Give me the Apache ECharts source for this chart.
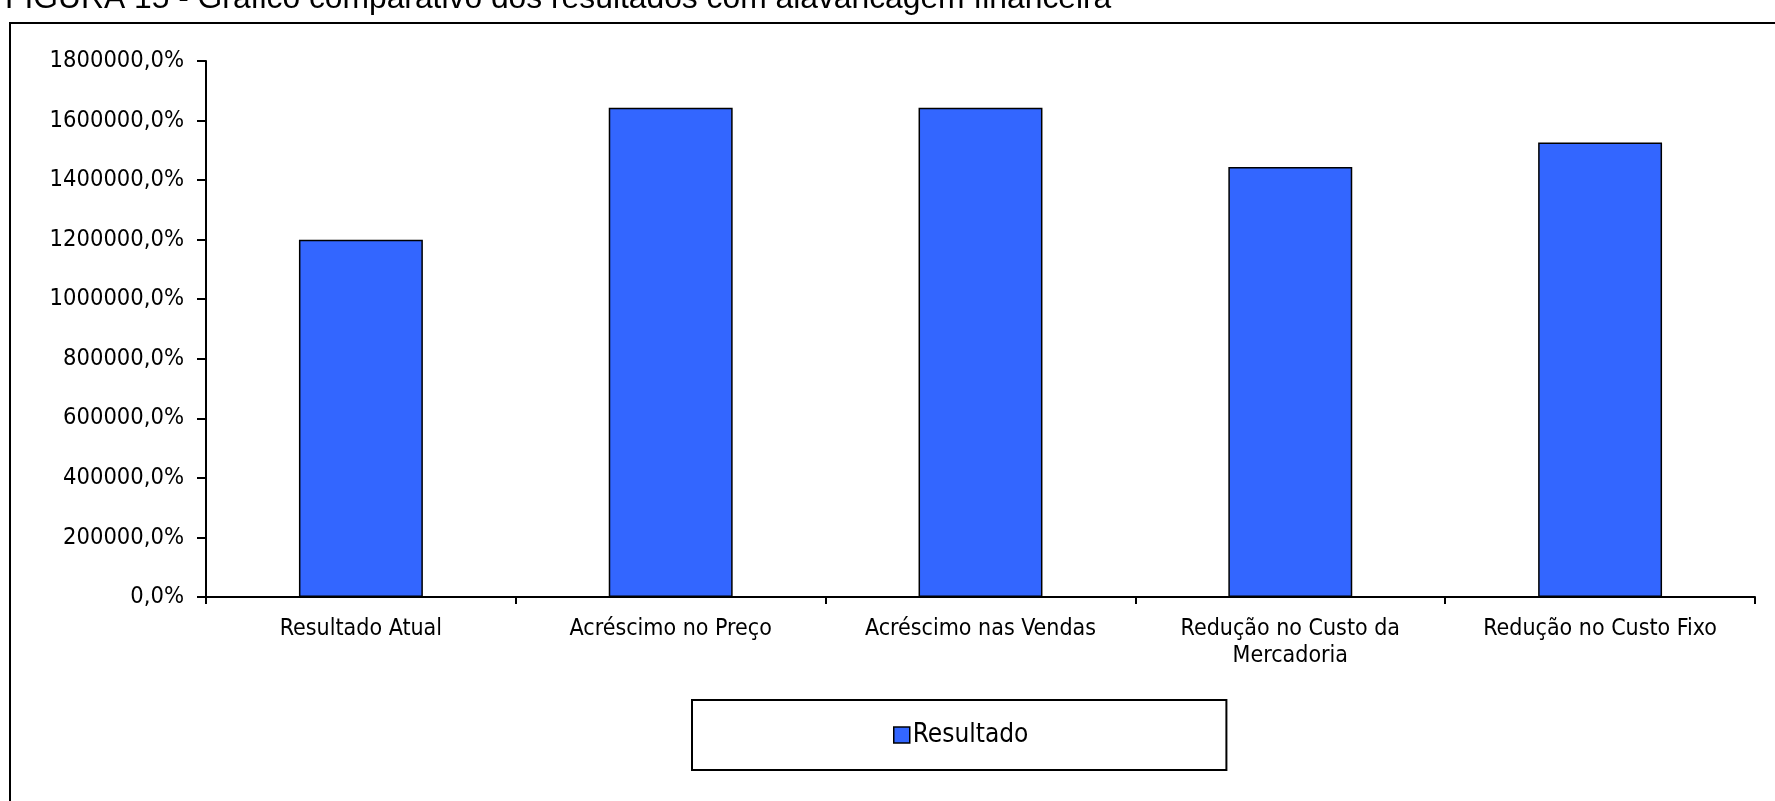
<!DOCTYPE html>
<html>
<head>
<meta charset="utf-8">
<script src="https://cdn.jsdelivr.net/npm/echarts@6/dist/echarts.min.js"></script>
<style>
  html, body { margin: 0; padding: 0; background: #fff; }
  #chart { width: 1775px; height: 801px; }
</style>
</head>
<body>
<div id="chart"></div>
<script>
// data
const categories = [
  'Resultado Atual',
  'Acréscimo no Preço',
  'Acréscimo nas Vendas',
  'Redução no Custo da\nMercadoria',
  'Redução no Custo Fixo'
]
const resultado = [1200000, 1643000, 1643000, 1444000, 1526000]
const seriesName = 'Resultado'
const titleText = 'FIGURA 15 - Gráfico comparativo dos resultados com alavancagem financeira'

const labelFont = "'DejaVu Sans Condensed', 'DejaVu Sans', sans-serif"

const chart = echarts.init(document.getElementById('chart'))

const fmtPct = v => v.toFixed(1).replace('.', ',') + '%'

chart.setOption({
  animation: false,
  backgroundColor: '#fff',
  title: {
    text: titleText,
    left: 0,
    top: -22,
    textStyle: { fontFamily: "'Liberation Sans', Arial, sans-serif", fontWeight: 'normal', fontSize: 31.8, color: '#000' }
  },
  // outer frame of the figure, runs past the right and bottom edges
  graphic: [{
    type: 'rect',
    shape: { x: 10, y: 23, width: 1800, height: 800 },
    style: { fill: 'none', stroke: '#000', lineWidth: 2 },
    silent: true
  }],
  grid: { left: 206, right: 20, top: 61, bottom: 204 },
  xAxis: {
    type: 'category',
    data: categories,
    axisLine: { lineStyle: { color: '#000', width: 2 } },
    axisTick: { show: true, alignWithLabel: false, length: 7, lineStyle: { color: '#000', width: 2 } },
    axisLabel: { color: '#000', fontFamily: labelFont, fontSize: 23, margin: 19, lineHeight: 27, interval: 0 },
    splitLine: { show: false }
  },
  yAxis: {
    type: 'value',
    min: 0,
    max: 1800000,
    interval: 200000,
    axisLine: { show: true, lineStyle: { color: '#000', width: 2 } },
    axisTick: { show: true, length: 9, lineStyle: { color: '#000', width: 2 } },
    axisLabel: { color: '#000', fontFamily: labelFont, fontSize: 23.5, margin: 22, formatter: fmtPct },
    splitLine: { show: false }
  },
  legend: {
    data: [seriesName],
    left: 692,
    top: 700,
    padding: [22, 198, 22, 201],
    backgroundColor: '#fff',
    borderColor: '#000',
    borderWidth: 2,
    itemWidth: 16,
    itemHeight: 16,
    itemGap: 4,
    icon: 'rect',
    itemStyle: { borderColor: '#000', borderWidth: 1.5 },
    textStyle: { color: '#000', fontFamily: labelFont, fontSize: 26, padding: [0, 0, 0, -2] }
  },
  series: [{
    name: seriesName,
    type: 'bar',
    data: resultado,
    barWidth: '40%',
    itemStyle: { color: '#3366FF', borderColor: '#000', borderWidth: 1.5 }
  }]
})
</script>
</body>
</html>
